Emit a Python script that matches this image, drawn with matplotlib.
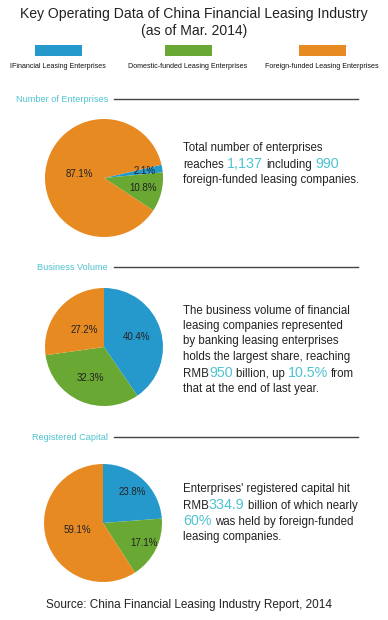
# Key operating data of China's financial leasing industry, three pies with notes
import numpy as np
import matplotlib
matplotlib.use("Agg")
import matplotlib.pyplot as plt
from matplotlib.patches import Rectangle
from matplotlib.offsetbox import TextArea, HPacker, VPacker, DrawingArea, AnnotationBbox

plt.rcParams['font.family'] = ['Liberation Sans', 'DejaVu Sans']

# data
categories = ["IFinancial Leasing Enterprises",
              "Domestic-funded Leasing Enterprises",
              "Foreign-funded Leasing Enterprises"]
enterprises = [2.1, 10.8, 87.1]
volume = [40.4, 32.3, 27.2]
capital = [23.8, 17.1, 59.1]
section_titles = ["Number of Enterprises", "Business Volume", "Registered Capital"]

# notes: each line is a list of (text, highlighted)
notes = [
    [[("Total number of enterprises", 0)],
     [("reaches ", 0), ("1,137", 1), (" including ", 0), ("990", 1)],
     [("foreign-funded leasing companies.", 0)]],
    [[("The business volume of financial", 0)],
     [("leasing companies represented", 0)],
     [("by banking leasing enterprises", 0)],
     [("holds the largest share, reaching", 0)],
     [("RMB", 0), ("950", 1), (" billion, up ", 0), ("10.5%", 1), (" from", 0)],
     [("that at the end of last year.", 0)]],
    [[("Enterprises' registered capital hit", 0)],
     [("RMB", 0), ("334.9", 1), (" billion of which nearly", 0)],
     [("60%", 1), (" was held by foreign-funded", 0)],
     [("leasing companies.", 0)]],
]

# styles / layout (pixels)
W, H = 388, 620
colors = ["#2699cc", "#6aa834", "#e88a22"]
accent = "#4ec3cf"
dark = "#222222"
pie_centers = [(104, 178), (104, 347), (103, 523)]
pie_r = 59
start_angles = [13, 90, 90]
label_r = [[0.70, 0.69, 0.42], [0.57, 0.57, 0.45], [0.72, 0.77, 0.45]]
header_y = [99, 267, 437]
note_center_y = [164, 350, 513]
note_sep = [2.0, 2.4, 1.8]
body_size, hi_size = 8.3, 10.3

fig = plt.figure(figsize=(W / 100, H / 100), dpi=100)
bg = fig.add_axes([0, 0, 1, 1])
bg.set_xlim(0, W)
bg.set_ylim(H, 0)
bg.axis('off')

# title
bg.text(194, 14, "Key Operating Data of China Financial Leasing Industry",
        ha='center', va='center', fontsize=10.1, color=dark)
bg.text(194, 31, "(as of Mar. 2014)", ha='center', va='center', fontsize=10.1, color=dark)

# legend: colour key above its label
key_x = [58, 188, 322]
for x, c, lab in zip(key_x, colors, categories):
    bg.add_patch(Rectangle((x - 23.5, 45), 47, 11, color=c, lw=0))
    bg.text(x, 67, lab, ha='center', va='center', fontsize=5.1, color="#111111")


def space(size):
    # spacer as wide as a blank in the given font size
    return DrawingArea(0.278 * size, 1)


def note_line(parts):
    kids = []
    for txt, hi in parts:
        size = hi_size if hi else body_size
        col = accent if hi else dark
        if txt.startswith(" "):
            kids.append(space(size))
        kids.append(TextArea(txt.strip(), textprops=dict(fontsize=size, color=col)))
        if txt.endswith(" "):
            kids.append(space(size))
    return HPacker(children=kids, align="baseline", pad=0, sep=0)


for i, vals in enumerate([enterprises, volume, capital]):
    # section header with rule
    y = header_y[i]
    bg.text(108, y, section_titles[i], ha='right', va='center', fontsize=6.6, color=accent)
    bg.plot([114, 358], [y, y], color="#444444", lw=1)

    # pie
    cx, cy = pie_centers[i]
    ax = fig.add_axes([(cx - pie_r) / W, 1 - (cy + pie_r) / H, 2 * pie_r / W, 2 * pie_r / H])
    wedges, texts, autotexts = ax.pie(vals, colors=colors, startangle=start_angles[i],
                                      counterclock=False, autopct='%.1f%%',
                                      wedgeprops=dict(linewidth=0),
                                      textprops=dict(fontsize=7, color=dark))
    for w, t, f in zip(wedges, autotexts, label_r[i]):
        a = np.deg2rad((w.theta1 + w.theta2) / 2)
        t.set_position((f * np.cos(a), f * np.sin(a)))
    ax.set_xlim(-1, 1)
    ax.set_ylim(-1, 1)

    # notes
    block = VPacker(children=[note_line(l) for l in notes[i]], align="left",
                    pad=0, sep=note_sep[i])
    ab = AnnotationBbox(block, (183, note_center_y[i]), xycoords=bg.transData,
                        box_alignment=(0, 0.5), frameon=False, pad=0)
    bg.add_artist(ab)

bg.text(189, 605, "Source: China Financial Leasing Industry Report, 2014",
        ha='center', va='center', fontsize=8.5, color=dark)

fig.savefig("out.png", dpi=100)
